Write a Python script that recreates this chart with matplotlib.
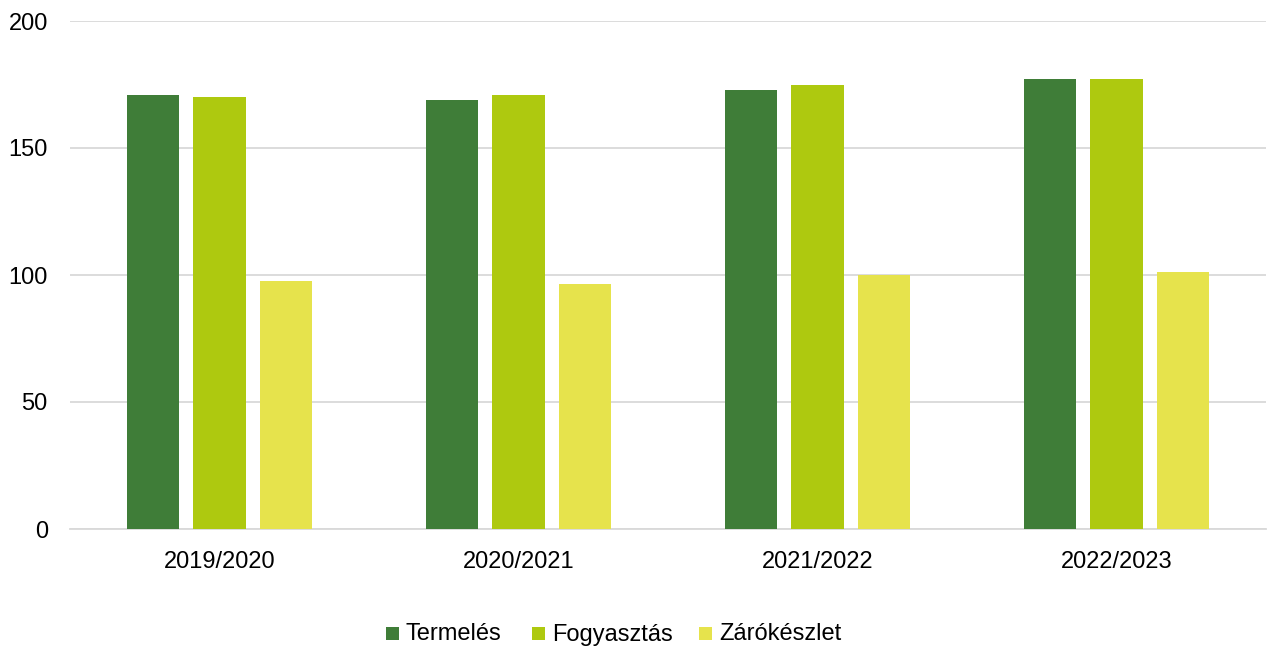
import matplotlib
matplotlib.use("Agg")
import matplotlib.pyplot as plt
from matplotlib.patches import Rectangle
import numpy as np

categories = ["2019/2020", "2020/2021", "2021/2022", "2022/2023"]
series_names = ["Termelés", "Fogyasztás", "Zárókészlet"]
termeles = [171, 169, 173, 177]
fogyasztas = [170, 171, 175, 177]
zarokeszlet = [97.6, 96.6, 100, 101]
colors = ["#3F7D38", "#AEC90F", "#E6E34C"]

plt.rcParams['font.family'] = ['Liberation Sans', 'DejaVu Sans']

W, H = 1268, 646
fig = plt.figure(figsize=(W / 100, H / 100), dpi=100)
ax = fig.add_axes([70 / W, 1 - 529 / H, 1196 / W, 508 / H])

x = np.arange(len(categories))
offs = [-0.222, 0, 0.222]
w = 0.175
for vals, name, c, o in zip([termeles, fogyasztas, zarokeszlet], series_names, colors, offs):
    ax.bar(x + o, vals, width=w, color=c, label=name, zorder=3)

ax.set_xlim(-0.5, len(categories) - 0.5)
ax.set_ylim(0, 200)
ax.set_yticks([0, 50, 100, 150, 200])
ax.set_xticks(x)
ax.set_xticklabels(categories)
ax.tick_params(axis='both', length=0, labelsize=17, colors='black')
ax.tick_params(axis='y', pad=16)
ax.tick_params(axis='x', pad=16)
ax.grid(axis='y', color='#d9d9d9', linewidth=1.3, zorder=0)
for s in ['top', 'right', 'left']:
    ax.spines[s].set_visible(False)
ax.spines['bottom'].set_color('#d9d9d9')
ax.spines['bottom'].set_linewidth(1.3)

# manual legend (keeps baselines aligned)
marker_x = [386, 532, 699]
for name, c, mx in zip(series_names, colors, marker_x):
    fig.patches.append(Rectangle((mx / W, 1 - 640 / H), 13 / W, 13 / H,
                                 transform=fig.transFigure, facecolor=c,
                                 edgecolor='none'))
    fig.text((mx + 20) / W, 1 - 640.5 / H, name, fontsize=17, va='baseline',
             ha='left', color='black')

fig.savefig("out.png", dpi=100)
